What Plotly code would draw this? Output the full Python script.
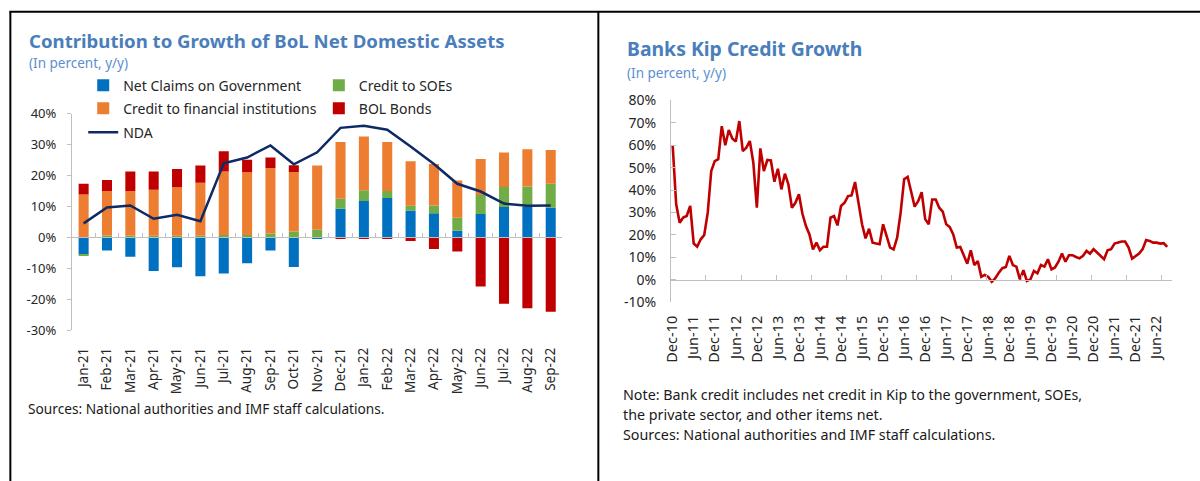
import plotly.graph_objects as go
import pandas as pd

# Layout helpers: positions below are given in target-picture pixels and mapped
# to paper fractions (page has the browser's default 8px body margin).
REF_W, REF_H = 1200, 481
VIEW_W, VIEW_H = 1208, 500
OFF = 8
W, H = VIEW_W - OFF, VIEW_H - OFF
SX, SY = VIEW_W / REF_W, VIEW_H / REF_H
DX, DY = 1.7, 2.5


def px(x):
    return ((x - DX) * SX - OFF) / W


def py(y):
    return 1 - ((y - DY) * SY - OFF) / H


# ---------------- Left chart data ----------------
months_left = ["Jan-21", "Feb-21", "Mar-21", "Apr-21", "May-21", "Jun-21", "Jul-21",
               "Aug-21", "Sep-21", "Oct-21", "Nov-21", "Dec-21", "Jan-22", "Feb-22",
               "Mar-22", "Apr-22", "May-22", "Jun-22", "Jul-22", "Aug-22", "Sep-22"]
net_claims_gov = [-5.5, -4.2, -6.2, -10.8, -9.6, -12.5, -11.6, -8.3, -4.2, -9.5, -0.3,
                  9.3, 11.8, 12.8, 8.8, 7.9, 2.2, 7.6, 9.9, 9.9, 9.7]
credit_soes = [-0.5, 0.7, 0.6, 0.6, 0.6, 0.6, 0.8, 0.8, 1.3, 2.0, 2.5,
               3.3, 3.5, 2.3, 1.5, 2.5, 4.2, 6.2, 6.5, 6.6, 7.7]
credit_fin = [13.9, 14.4, 14.5, 14.9, 15.7, 17.1, 20.6, 20.3, 21.2, 19.2, 20.8,
              18.3, 17.4, 15.8, 14.4, 13.4, 12.1, 11.6, 11.1, 12.1, 10.9]
bol_bonds = [3.5, 3.5, 6.3, 5.9, 5.9, 5.6, 6.5, 4.1, 3.4, 2.2, 0.0,
             -0.3, -0.4, -0.4, -1.1, -3.7, -4.5, -15.8, -21.4, -22.9, -24.0]
nda = [4.6, 9.7, 10.4, 6.1, 7.4, 5.3, 24.0, 25.9, 29.8, 23.7, 27.6,
       35.5, 36.2, 34.9, 29.5, 23.8, 17.4, 14.9, 11.0, 10.3, 10.4]
left_ytick_vals = [-30, -20, -10, 0, 10, 20, 30, 40]
left_ytick_text = ["-30%", "-20%", "-10%", "0%", "10%", "20%", "30%", "40%"]

# ---------------- Right chart data ----------------
months_right = list(pd.date_range("2010-12-01", periods=142, freq="MS").strftime("%b-%y"))
kip_credit_growth = [
    60.0, 33.6, 25.4, 27.7, 28.4, 32.9, 16.1, 14.7, 18.0, 19.9,
    29.9, 48.5, 52.9, 53.8, 68.5, 60.0, 66.8, 63.0, 61.6, 70.8,
    57.4, 58.9, 61.9, 52.2, 32.1, 58.6, 48.5, 53.4, 53.2, 43.7,
    49.5, 40.3, 47.3, 42.5, 32.1, 34.3, 38.1, 29.4, 23.9, 20.2,
    13.5, 16.5, 13.1, 14.7, 14.7, 27.7, 28.4, 24.2, 32.9, 34.3,
    37.3, 37.6, 43.6, 33.9, 24.7, 18.4, 22.7, 16.5, 16.2, 15.8,
    24.7, 19.5, 14.3, 13.5, 18.7, 29.9, 44.8, 45.9, 39.6, 32.6,
    35.0, 39.0, 27.0, 24.7, 35.8, 35.8, 32.1, 30.3, 24.7, 23.5,
    20.2, 14.3, 14.6, 10.6, 7.1, 13.1, 6.5, 8.3, 1.3, 2.1,
    1.2, -1.0, 0.6, 3.1, 5.1, 5.6, 10.6, 6.5, 5.8, 0.1,
    4.2, -0.6, 0.1, 3.9, 2.8, 6.5, 5.8, 9.1, 4.6, 5.4,
    8.0, 11.6, 8.0, 10.9, 10.9, 10.1, 9.5, 10.6, 12.8, 11.6,
    13.6, 12.1, 10.6, 9.1, 13.1, 13.6, 16.1, 16.5, 17.0, 17.0,
    14.3, 9.4, 10.6, 11.6, 13.6, 17.7, 17.3, 16.5, 16.5, 16.1,
    16.3, 14.6]
right_ytick_vals = [-10, 0, 10, 20, 30, 40, 50, 60, 70, 80]
right_ytick_text = ["-10%", "0%", "10%", "20%", "30%", "40%", "50%", "60%", "70%", "80%"]

FONT = "Noto Sans"
AXIS_GREY = "#BFBFBF"
TEXT = "#262626"
TITLE_BLUE = "#4A7EBB"
SUB_BLUE = "#5B8FD0"

fig = go.Figure()

bar_w = 0.43
fig.add_trace(go.Bar(x=months_left, y=net_claims_gov, name="Net Claims on Government",
                     marker=dict(color="#0070C0", line=dict(width=0)), width=bar_w,
                     xaxis="x", yaxis="y", legend="legend"))
fig.add_trace(go.Bar(x=months_left, y=credit_soes, name="Credit to SOEs",
                     marker=dict(color="#70AD47", line=dict(width=0)), width=bar_w,
                     xaxis="x", yaxis="y", legend="legend2"))
fig.add_trace(go.Bar(x=months_left, y=credit_fin, name="Credit to financial institutions",
                     marker=dict(color="#ED7D31", line=dict(width=0)), width=bar_w,
                     xaxis="x", yaxis="y", legend="legend3"))
fig.add_trace(go.Bar(x=months_left, y=bol_bonds, name="BOL Bonds",
                     marker=dict(color="#C00000", line=dict(width=0)), width=bar_w,
                     xaxis="x", yaxis="y", legend="legend4"))
fig.add_trace(go.Scatter(x=months_left, y=nda, name="NDA", mode="lines",
                         line=dict(color="#0E2A66", width=2.5),
                         xaxis="x", yaxis="y", legend="legend5"))

# helper traces for the zero-line axes
fig.add_trace(go.Scatter(x=[None], y=[None], xaxis="x3", yaxis="y", showlegend=False,
                         hoverinfo="skip"))
fig.add_trace(go.Scatter(x=[None], y=[None], xaxis="x4", yaxis="y2", showlegend=False,
                         hoverinfo="skip"))

fig.add_trace(go.Scatter(x=months_right, y=kip_credit_growth, mode="lines",
                         line=dict(color="#C00000", width=2.6),
                         xaxis="x2", yaxis="y2", showlegend=False))

legend_common = dict(orientation="h", xanchor="left", yanchor="middle",
                     bgcolor="rgba(0,0,0,0)", borderwidth=0,
                     font=dict(family=FONT, size=14, color=TEXT))

y0_left = py(237.2)
y0_right = py(280)

fig.update_layout(
    width=W, height=H,
    margin=dict(l=0, r=0, t=0, b=0),
    paper_bgcolor="white", plot_bgcolor="white",
    font=dict(family=FONT, color=TEXT),
    barmode="relative",
    showlegend=True,
    legend=dict(x=px(83), y=py(86), **legend_common),
    legend2=dict(x=px(319), y=py(86), **legend_common),
    legend3=dict(x=px(83), y=py(109), **legend_common),
    legend4=dict(x=px(319), y=py(109), **legend_common),
    legend5=dict(x=px(83), y=py(133), **legend_common),
    xaxis=dict(domain=[px(71.7), px(563)], anchor="y", type="category",
               range=[-0.5, 20.5], tickangle=-90, ticks="outside", ticklen=11,
               tickcolor="rgba(0,0,0,0)", showline=False, showgrid=False, zeroline=False,
               tickfont=dict(family=FONT, size=13.5, color=TEXT)),
    xaxis3=dict(overlaying="x", anchor="free", position=y0_left, type="linear",
                range=[-0.5, 20.5], tickvals=[k - 0.5 for k in range(22)],
                ticks="inside", ticklen=4, tickcolor=AXIS_GREY, showline=True,
                linecolor=AXIS_GREY, linewidth=1, showticklabels=False,
                showgrid=False, zeroline=False),
    yaxis=dict(domain=[py(330.7), py(114.2)], anchor="x", range=[-30, 40],
               tickvals=left_ytick_vals, ticktext=left_ytick_text,
               ticks="outside", ticklen=4, tickcolor=AXIS_GREY, showline=True,
               linecolor=AXIS_GREY, linewidth=1, showgrid=False, zeroline=False,
               ticklabelstandoff=8,
               tickfont=dict(family=FONT, size=13, color=TEXT)),
    xaxis2=dict(domain=[px(671.7), px(1174.1)], anchor="y2", type="category",
                range=[-0.5, 142.5], tickvals=months_right[::6], tickangle=-90,
                ticks="outside", ticklen=7, tickcolor="rgba(0,0,0,0)",
                showline=False, showgrid=False, zeroline=False,
                tickfont=dict(family=FONT, size=14.5, color=TEXT)),
    xaxis4=dict(overlaying="x2", anchor="free", position=y0_right, type="linear",
                range=[-0.5, 142.5], tickvals=[10 * k - 0.5 for k in range(15)],
                ticks="inside", ticklen=5, tickcolor=AXIS_GREY, showline=True,
                linecolor=AXIS_GREY, linewidth=1, showticklabels=False,
                showgrid=False, zeroline=False),
    yaxis2=dict(domain=[py(302.4), py(100.7)], anchor="x2", range=[-10, 80],
                tickvals=right_ytick_vals, ticktext=right_ytick_text,
                ticks="inside", ticklen=5, tickcolor=AXIS_GREY, showline=True,
                linecolor=AXIS_GREY, linewidth=1, showgrid=False, zeroline=False,
                ticklabelstandoff=11,
                tickfont=dict(family=FONT, size=14, color=TEXT)),
)

annotations = [
    dict(text="<b>Contribution to Growth of BoL Net Domestic Assets</b>", x=px(27), y=py(40.5),
         font=dict(size=18.6, color=TITLE_BLUE)),
    dict(text="(In percent, y/y)", x=px(27), y=py(63.5), font=dict(size=13.5, color=SUB_BLUE)),
    dict(text="Sources: National authorities and IMF staff calculations.", x=px(26), y=py(409),
         font=dict(size=13.7, color="#1a1a1a")),
    dict(text="<b>Banks Kip Credit Growth</b>", x=px(626), y=py(49),
         font=dict(size=19.4, color=TITLE_BLUE)),
    dict(text="(In percent, y/y)", x=px(626), y=py(73), font=dict(size=13.5, color=SUB_BLUE)),
    dict(text="Note: Bank credit includes net credit in Kip to the government, SOEs,",
         x=px(622), y=py(395), font=dict(size=14.3, color="#1a1a1a")),
    dict(text="the private sector, and other items net.",
         x=px(622), y=py(415), font=dict(size=14.3, color="#1a1a1a")),
    dict(text="Sources: National authorities and IMF staff calculations.",
         x=px(622), y=py(435), font=dict(size=14.3, color="#1a1a1a")),
]
for a in annotations:
    a.update(xref="paper", yref="paper", xanchor="left", yanchor="middle", showarrow=False)
    a["font"]["family"] = FONT
fig.update_layout(annotations=annotations)

shapes = [
    dict(type="line", x0=px(9), x1=1, y0=py(12), y1=py(12)),
    dict(type="line", x0=px(10), x1=px(10), y0=py(12), y1=0),
    dict(type="line", x0=px(599), x1=px(599), y0=py(12), y1=0),
]
for s in shapes:
    s.update(xref="paper", yref="paper", line=dict(color="black", width=2))
fig.update_layout(shapes=shapes)

fig.write_html("out.html")
